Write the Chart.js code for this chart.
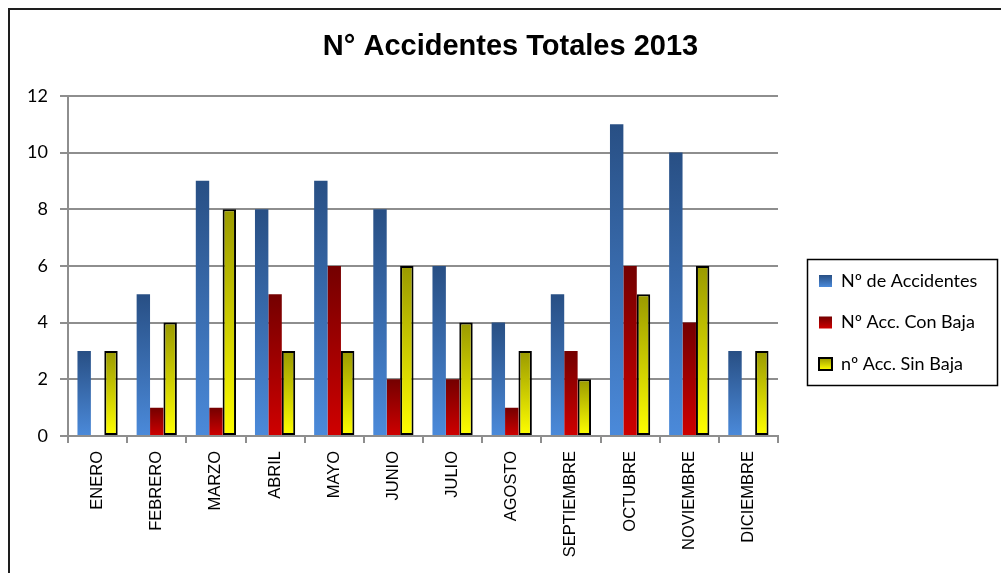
<!DOCTYPE html>
<html>
<head>
<meta charset="utf-8">
<script src="https://cdn.jsdelivr.net/npm/chart.js@4/dist/chart.umd.min.js"></script>
<style>
  html, body { margin: 0; padding: 0; background: #ffffff; }
  #wrap { width: 1001px; height: 573px; position: relative; }
</style>
</head>
<body>
<div id="wrap"><canvas id="c" width="1001" height="573"></canvas></div>
<script>
const months = ["ENERO", "FEBRERO", "MARZO", "ABRIL", "MAYO", "JUNIO", "JULIO", "AGOSTO", "SEPTIEMBRE", "OCTUBRE", "NOVIEMBRE", "DICIEMBRE"];
const accidentes = [3, 5, 9, 8, 9, 8, 6, 4, 5, 11, 10, 3];
const conBaja    = [0, 1, 1, 5, 6, 2, 2, 1, 3, 6, 4, 0];
const sinBaja    = [3, 4, 8, 3, 3, 6, 4, 3, 2, 5, 6, 3];
const seriesNames = ["Nº de Accidentes", "Nº Acc. Con Baja", "nº Acc. Sin Baja"];
const yTicks = [0, 2, 4, 6, 8, 10, 12];
const titleText = "N° Accidentes Totales 2013";

const COLORS = [
  { top: "#284f84", bottom: "#4b8ada" },
  { top: "#740000", bottom: "#cf0000" },
  { top: "#9a9a00", bottom: "#ffff00" }
];

function barGradient(idx) {
  return function (ctx) {
    const chart = ctx.chart;
    const c = COLORS[idx];
    if (!chart.chartArea || ctx.type !== 'data' || !chart.scales.y) return c.bottom;
    const v = ctx.parsed ? ctx.parsed.y : 0;
    const y0 = chart.scales.y.getPixelForValue(0);
    const y1 = chart.scales.y.getPixelForValue(v);
    if (Math.abs(y0 - y1) < 1) return c.bottom;
    const g = chart.ctx.createLinearGradient(0, y1, 0, y0);
    g.addColorStop(0, c.top);
    g.addColorStop(1, c.bottom);
    return g;
  };
}

// legend geometry
const LEG = { frameL: 807, frameT: 259, frameR: 997, frameB: 385, pad: 23.5, font: 18, boxW: 13, boxH: 12, firstTop: 272 };

const framePlugin = {
  id: 'frames',
  afterLayout(chart) {
    const lg = chart.legend;
    if (lg) {
      lg.left = 819 - LEG.pad;
      lg.right = LEG.frameR;
      lg.width = lg.right - lg.left;
      lg.top = LEG.firstTop - LEG.pad;
      lg.bottom = 560;
      lg.height = lg.bottom - lg.top;
    }
    const tb = chart.titleBlock;
    if (tb) {
      tb.left = 20;
      tb.right = 1001;
      tb.width = tb.right - tb.left;
    }
  },
  afterDraw(chart) {
    const ctx = chart.ctx;
    ctx.save();
    ctx.strokeStyle = "#1e1e1e";
    ctx.lineWidth = 2;
    ctx.strokeRect(9, 9, 1200, 800);
    ctx.strokeStyle = "#000000";
    ctx.lineWidth = 1.5;
    ctx.strokeRect(LEG.frameL + 0.5, LEG.frameT + 0.5, LEG.frameR - LEG.frameL, LEG.frameB - LEG.frameT);
    ctx.restore();
  }
};

const datasets = [accidentes, conBaja, sinBaja].map((vals, i) => ({
  label: seriesNames[i],
  data: vals,
  backgroundColor: barGradient(i),
  borderColor: i === 2 ? "#000000" : "rgba(0,0,0,0)",
  borderWidth: i === 2 ? 2 : 0,
  borderSkipped: false
}));

new Chart(document.getElementById('c'), {
  type: 'bar',
  data: { labels: months, datasets: datasets },
  options: {
    responsive: false,
    animation: false,
    layout: { padding: { left: 0, right: 223, top: 0, bottom: 0 } },
    datasets: { bar: { categoryPercentage: 0.68, barPercentage: 1.0 } },
    plugins: {
      title: {
        display: true,
        text: titleText,
        color: "#000000",
        font: { family: "'Liberation Sans', Arial, sans-serif", size: 29, weight: 'bold' },
        padding: { top: 30, bottom: 31 }
      },
      legend: {
        display: true,
        position: 'chartArea',
        align: 'start',
        labels: {
          color: "#000000",
          font: { family: "Lato, 'Open Sans', sans-serif", size: LEG.font },
          boxWidth: LEG.boxW,
          boxHeight: LEG.boxH,
          padding: LEG.pad,
          generateLabels(chart) {
            const items = Chart.defaults.plugins.legend.labels.generateLabels(chart);
            items.forEach((it, i) => {
              const yTop = LEG.firstTop + i * (LEG.font + LEG.pad) + (LEG.font - LEG.boxH) / 2;
              const g = chart.ctx.createLinearGradient(0, yTop, 0, yTop + LEG.boxH);
              g.addColorStop(0, COLORS[i].top);
              g.addColorStop(1, COLORS[i].bottom);
              it.fillStyle = g;
              it.strokeStyle = i === 2 ? "#000000" : "rgba(0,0,0,0)";
              it.lineWidth = i === 2 ? 2 : 0;
            });
            return items;
          }
        }
      },
      tooltip: { enabled: false }
    },
    scales: {
      x: {
        grid: { display: true, drawOnChartArea: false, drawTicks: true, tickLength: 7, color: "#8e8e8e", lineWidth: 2, offset: true },
        border: { display: true, color: "#8e8e8e", width: 2 },
        ticks: {
          color: "#000000",
          font: { family: "'Liberation Sans', Arial, sans-serif", size: 16.5 },
          maxRotation: 90,
          minRotation: 90,
          padding: 8,
          autoSkip: false
        },
        afterFit(scale) { scale.height = 137; }
      },
      y: {
        min: 0,
        max: 12,
        afterBuildTicks(scale) { scale.ticks = yTicks.map(v => ({ value: v })); },
        grid: { color: "#8e8e8e", lineWidth: 2, tickLength: 8, drawTicks: true },
        border: { display: true, color: "#8e8e8e", width: 2 },
        ticks: {
          color: "#000000",
          font: { family: "Lato, 'Open Sans', sans-serif", size: 18 },
          padding: 12
        },
        afterFit(scale) { scale.width = 68; }
      }
    }
  },
  plugins: [framePlugin]
});
</script>
</body>
</html>
